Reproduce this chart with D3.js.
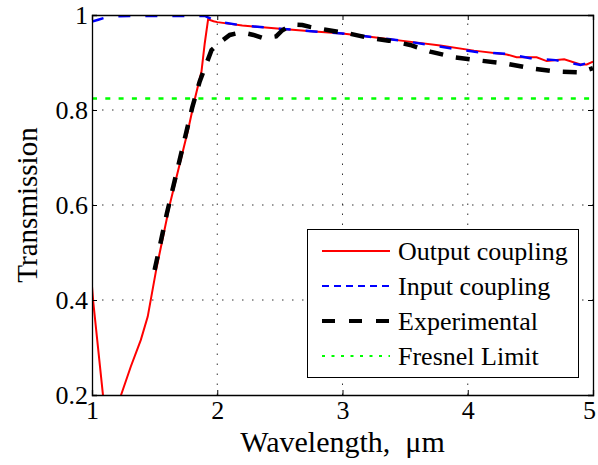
<!DOCTYPE html>
<html><head><meta charset="utf-8">
<script src="https://cdn.jsdelivr.net/npm/d3@7"></script>
<style>
@font-face { font-family: "ChartSerif"; src: local("Liberation Serif"), local("LiberationSerif"), local("Liberation Serif Regular"), local("Times New Roman"); }
</style>
</head>
<body style="margin:0;background:#fff"><svg id="c" width="598" height="465"></svg>
<script>
const xTicks = [1, 2, 3, 4, 5];
const yTicks = [0.2, 0.4, 0.6, 0.8, 1];
const yTickLabels = ["0.2", "0.4", "0.6", "0.8", "1"];
const seriesNames = ["Output coupling", "Input coupling", "Experimental", "Fresnel Limit"];

const outputX = [1.0, 1.01, 1.086, 1.13, 1.16, 1.20, 1.232, 1.31, 1.39, 1.445, 1.512, 1.62, 1.767, 1.821, 1.874, 1.90, 1.927, 1.97, 2.0, 2.2, 2.5, 2.75, 3.0, 3.25, 3.5, 3.78, 4.05, 4.31, 4.39, 4.55, 4.63, 4.77, 4.9, 4.95, 5.0];
const outputY = [0.428, 0.396, 0.204, 0.09, 0.08, 0.176, 0.2, 0.26, 0.316, 0.365, 0.463, 0.6, 0.758, 0.823, 0.881, 0.94, 0.991, 0.987, 0.985, 0.978, 0.971, 0.966, 0.961, 0.953, 0.945, 0.936, 0.925, 0.917, 0.911, 0.911, 0.903, 0.907, 0.896, 0.896, 0.902];

const inputX = [1.0, 1.05, 1.1, 1.2, 1.3, 1.5, 1.7, 1.9, 1.95, 2.0, 2.2, 2.5, 2.75, 3.0, 3.25, 3.5, 3.86, 4.07, 4.31, 4.5, 4.7, 4.9, 5.0];
const inputY = [0.986, 0.990, 0.994, 0.997, 0.998, 0.998, 0.998, 0.998, 0.992, 0.986, 0.978, 0.971, 0.966, 0.961, 0.953, 0.945, 0.930, 0.922, 0.918, 0.909, 0.905, 0.895, 0.902];

const expX = [1.50, 1.60, 1.70, 1.80, 1.86, 1.914, 1.954, 2.03, 2.10, 2.15, 2.22, 2.29, 2.37, 2.47, 2.52, 2.60, 2.68, 2.74, 2.89, 3.05, 3.19, 3.37, 3.54, 3.70, 3.89, 4.10, 4.30, 4.50, 4.70, 4.90, 5.0];
const expY = [0.463, 0.585, 0.695, 0.805, 0.86, 0.898, 0.926, 0.944, 0.958, 0.961, 0.962, 0.958, 0.951, 0.955, 0.968, 0.980, 0.979, 0.975, 0.968, 0.961, 0.953, 0.946, 0.937, 0.923, 0.911, 0.904, 0.898, 0.888, 0.881, 0.879, 0.888];

const fresnelX = [1, 5];
const fresnelY = [0.824, 0.824];

const FONT = "'Liberation Serif', ChartSerif, 'Times New Roman', Tinos, serif";
const svg = d3.select("#c");
const L = 92, R = 593, T = 15, B = 395;
const x = d3.scaleLinear().domain([1, 5]).range([L, R]);
const y = d3.scaleLinear().domain([0.2, 1]).range([B, T]);

svg.append("defs").append("clipPath").attr("id", "clip")
  .append("rect").attr("x", L).attr("y", T).attr("width", R - L).attr("height", B - T);

// grid
const grid = svg.append("g").attr("stroke", "#333").attr("stroke-width", 1).attr("stroke-dasharray", "1.5,8.5");
grid.selectAll(".gx").data(xTicks.slice(1, -1)).join("line")
  .attr("x1", d => x(d)).attr("x2", d => x(d)).attr("y1", B).attr("y2", T);
grid.selectAll(".gy").data(yTicks.slice(1, -1)).join("line")
  .attr("y1", d => y(d)).attr("y2", d => y(d)).attr("x1", L).attr("x2", R);

const line = d3.line().x(d => x(d[0])).y(d => y(d[1]));
const zip = (a, b) => a.map((v, i) => [v, b[i]]);
const plot = svg.append("g").attr("clip-path", "url(#clip)").attr("fill", "none");

plot.append("path").datum(zip(outputX, outputY)).attr("d", line)
  .attr("stroke", "#ff0000").attr("stroke-width", 2);
plot.append("path").datum(zip(inputX, inputY)).attr("d", line)
  .attr("stroke", "#0000ff").attr("stroke-width", 2.5).attr("stroke-dasharray", "12,15");
plot.append("path").datum(zip(expX, expY)).attr("d", line)
  .attr("stroke", "#000").attr("stroke-width", 4.5).attr("stroke-dasharray", "14,13");
plot.append("path").datum(zip(fresnelX, fresnelY)).attr("d", line)
  .attr("stroke", "#00ff00").attr("stroke-width", 2.5).attr("stroke-dasharray", "5,8.3");

// axes (box with inward ticks on all sides)
const tl = 5;
const axB = svg.append("g").attr("transform", `translate(0,${B})`)
  .call(d3.axisBottom(x).tickValues(xTicks).tickSize(-tl).tickPadding(8).tickFormat(d3.format("d")));
const axT = svg.append("g").attr("transform", `translate(0,${T})`)
  .call(d3.axisTop(x).tickValues(xTicks).tickSize(-tl).tickFormat(""));
const axL = svg.append("g").attr("transform", `translate(${L},0)`)
  .call(d3.axisLeft(y).tickValues(yTicks).tickSize(-tl).tickPadding(8).tickFormat((d, i) => yTickLabels[i]));
const axR = svg.append("g").attr("transform", `translate(${R},0)`)
  .call(d3.axisRight(y).tickValues(yTicks).tickSize(-tl).tickFormat(""));
[axB, axT, axL, axR].forEach(a => {
  a.select(".domain").attr("stroke", "#000").attr("stroke-width", 1.3);
  a.selectAll(".tick line").attr("stroke", "#000").attr("stroke-width", 1);
  a.selectAll("text").attr("fill", "#000").attr("font-size", 26);
});
axB.selectAll("text").attr("dy", "0.6em");
axB.selectAll(".tick").filter(d => d === 5).select("text").attr("dx", "-4");
axL.selectAll("text").attr("dx", "0.15em");

// axis titles
svg.append("text").attr("x", (L + R) / 2).attr("y", 452).attr("text-anchor", "middle")
  .attr("font-size", 30).style("white-space", "pre")
  .text("Wavelength,  \u03bcm");
svg.append("text").attr("transform", `translate(37,${(T + B) / 2}) rotate(-90)`)
  .attr("text-anchor", "middle").attr("font-size", 29).text("Transmission");

// legend
const leg = svg.append("g");
leg.append("rect").attr("x", 307.5).attr("y", 229.5).attr("width", 271).attr("height", 148)
  .attr("fill", "#fff").attr("stroke", "#000").attr("stroke-width", 1);
const legStyles = [
  {c: "#ff0000", w: 2, d: null},
  {c: "#0000ff", w: 2, d: "7,5"},
  {c: "#000", w: 4, d: "13,14"},
  {c: "#00ff00", w: 2, d: "3,6.5"}
];
const legY = d3.scalePoint().domain(seriesNames).range([251, 356]);
seriesNames.forEach((n, i) => {
  const s = legStyles[i];
  leg.append("line").attr("x1", 322).attr("x2", 390).attr("y1", legY(n)).attr("y2", legY(n))
    .attr("stroke", s.c).attr("stroke-width", s.w).attr("stroke-dasharray", s.d);
  leg.append("text").attr("x", 398).attr("y", legY(n)).attr("dy", "0.33em")
    .attr("font-size", 26).text(n);
});

// serif font on every text element
svg.selectAll("g").attr("font-family", null);
svg.selectAll("text").attr("font-family", FONT).style("font-family", FONT, "important");
</script></body></html>
